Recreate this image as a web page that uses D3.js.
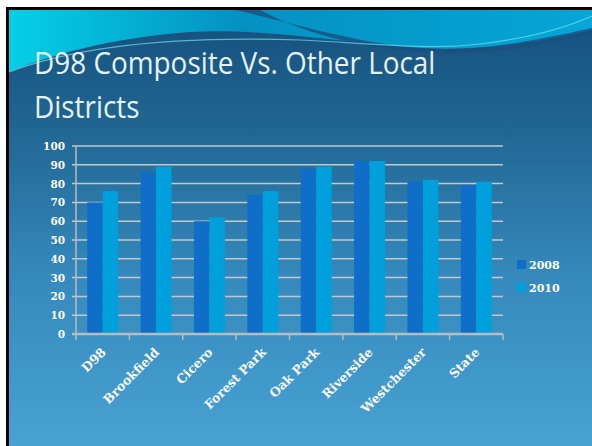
<!DOCTYPE html>
<meta charset="utf-8">
<head>
<script src="https://d3js.org/d3.v7.min.js"></script>
<style>
  body { margin: 0; background: #fff; }
  svg { display: block; }
</style>
</head>
<body>
<div id="chart"></div>
<script>

var width = 592, height = 446;

var districts = ["D98", "Brookfield", "Cicero", "Forest Park", "Oak Park", "Riverside", "Westchester", "State"];
var years = ["2008", "2010"];
var values2008 = [70, 86, 60, 74, 88, 92, 81, 79];
var values2010 = [76, 89, 62, 76, 89, 92, 82, 81];
var yTicks = [0, 10, 20, 30, 40, 50, 60, 70, 80, 90, 100];

var colors = ["#0e6ec8", "#00a0dc"];

var svg = d3.select("#chart").append("svg")
  .attr("width", width)
  .attr("height", height);

var defs = svg.append("defs");

var bg = defs.append("linearGradient").attr("id", "bg")
  .attr("x1", 0).attr("y1", 0).attr("x2", 0).attr("y2", 1);
bg.append("stop").attr("offset", "0%").attr("stop-color", "#164f7c");
bg.append("stop").attr("offset", "25%").attr("stop-color", "#1f6490");
bg.append("stop").attr("offset", "60%").attr("stop-color", "#3588bb");
bg.append("stop").attr("offset", "100%").attr("stop-color", "#48a2d3");

var top_grad = defs.append("linearGradient").attr("id", "topg")
  .attr("x1", 0).attr("y1", 0).attr("x2", 1).attr("y2", 0);
top_grad.append("stop").attr("offset", "0%").attr("stop-color", "#05cfe6");
top_grad.append("stop").attr("offset", "40%").attr("stop-color", "#0491c2");
top_grad.append("stop").attr("offset", "100%").attr("stop-color", "#06a6d6");

// slide frame
svg.append("rect").attr("x", 6).attr("y", 7).attr("width", width - 6).attr("height", height - 7)
  .attr("fill", "#000");
svg.append("rect").attr("x", 9).attr("y", 10).attr("width", width - 9).attr("height", height - 10)
  .attr("fill", "url(#bg)");

// top swoosh
svg.append("path")
  .attr("d", "M9,10 H592 V30 C550,40 490,52 420,48 C340,42 260,28 190,32 C110,38 50,55 9,72 Z")
  .attr("fill", "url(#topg)");
svg.append("path")
  .attr("d", "M235,10 C290,22 350,42 420,48 C470,52 520,44 592,28 V34 C520,50 470,56 420,52 C340,46 290,26 260,10 Z")
  .attr("fill", "#1a4f7e").attr("opacity", 0.8);
svg.append("path")
  .attr("d", "M9,72 C80,45 180,36 300,40 C380,44 430,50 480,44 C530,38 565,28 592,16")
  .attr("fill", "none").attr("stroke", "#6fe0ee").attr("stroke-width", 1.2).attr("opacity", 0.7);

// title
var title = svg.append("g").attr("transform", "translate(34,0) scale(0.9,1)");
title.append("text").attr("x", 0).attr("y", 74)
  .attr("font-family", "Open Sans").attr("font-size", 31)
  .attr("fill", "#e4f1f7")
  .text("D98 Composite Vs. Other Local");
title.append("text").attr("x", 0).attr("y", 118)
  .attr("font-family", "Open Sans").attr("font-size", 31)
  .attr("fill", "#e4f1f7")
  .text("Districts");

// chart area
var plotLeft = 76, plotRight = 503, plotTop = 146, plotBottom = 334;

var x0 = d3.scaleBand().domain(districts).range([plotLeft, plotRight]).padding(0);
var x1 = d3.scaleBand().domain(years)
  .range([x0.bandwidth() * 0.21, x0.bandwidth() * 0.79]).padding(0);
var y = d3.scaleLinear().domain([0, 100]).range([plotBottom, plotTop]);

// grid
svg.append("g")
  .selectAll("line")
  .data(yTicks.slice(1))
  .enter().append("line")
  .attr("x1", plotLeft - 4).attr("x2", plotRight)
  .attr("y1", function(d) { return y(d); })
  .attr("y2", function(d) { return y(d); })
  .attr("stroke", "#c4c8cc").attr("stroke-width", 1.5);

// y axis line
svg.append("line")
  .attr("x1", plotLeft).attr("x2", plotLeft).attr("y1", plotTop).attr("y2", plotBottom)
  .attr("stroke", "#b8bcc0").attr("stroke-width", 1.5);

// bars
var data = districts.map(function(d, i) {
  return {name: d, vals: [values2008[i], values2010[i]]};
});

var groups = svg.append("g").selectAll("g")
  .data(data)
  .enter().append("g")
  .attr("transform", function(d) { return "translate(" + x0(d.name) + ",0)"; });

groups.selectAll("rect")
  .data(function(d) { return d.vals.map(function(v, j) { return {year: years[j], v: v, j: j}; }); })
  .enter().append("rect")
  .attr("x", function(d) { return x1(d.year); })
  .attr("width", x1.bandwidth())
  .attr("y", function(d) { return y(d.v); })
  .attr("height", function(d) { return y(0) - y(d.v); })
  .attr("fill", function(d) { return colors[d.j]; });

// x axis
svg.append("line")
  .attr("x1", plotLeft - 4).attr("x2", plotRight)
  .attr("y1", plotBottom).attr("y2", plotBottom)
  .attr("stroke", "#b8bcc0").attr("stroke-width", 2.5);

svg.append("g").selectAll("line")
  .data(districts.concat(["end"]))
  .enter().append("line")
  .attr("x1", function(d, i) { return i < districts.length ? x0(d) : plotRight; })
  .attr("x2", function(d, i) { return i < districts.length ? x0(d) : plotRight; })
  .attr("y1", plotBottom).attr("y2", plotBottom + 6)
  .attr("stroke", "#b8bcc0").attr("stroke-width", 1.5);

// y labels
svg.append("g").selectAll("text")
  .data(yTicks)
  .enter().append("text")
  .attr("x", 65)
  .attr("y", function(d) { return y(d) + 4; })
  .attr("text-anchor", "end")
  .attr("font-family", "DejaVu Serif").attr("font-weight", "bold").attr("font-size", 10.5)
  .attr("fill", "#ffffff")
  .text(function(d) { return d; });

// x labels
svg.append("g").selectAll("text")
  .data(districts)
  .enter().append("text")
  .attr("transform", function(d) {
    return "translate(" + (x0(d) + x0.bandwidth() / 2 + 4) + "," + (plotBottom + 19) + ") rotate(-45)";
  })
  .attr("text-anchor", "end")
  .attr("font-family", "DejaVu Serif").attr("font-weight", "bold").attr("font-size", 12.5)
  .attr("fill", "#ffffff")
  .text(function(d) { return d; });

// legend
var legend = svg.append("g").selectAll("g")
  .data(years)
  .enter().append("g")
  .attr("transform", function(d, i) { return "translate(517," + (260 + i * 23) + ")"; });
legend.append("rect").attr("width", 9).attr("height", 9)
  .attr("fill", function(d, i) { return colors[i]; });
legend.append("text").attr("x", 12).attr("y", 9)
  .attr("font-family", "DejaVu Serif").attr("font-weight", "bold").attr("font-size", 11)
  .attr("fill", "#ffffff")
  .text(function(d) { return d; });

</script>
</body>
